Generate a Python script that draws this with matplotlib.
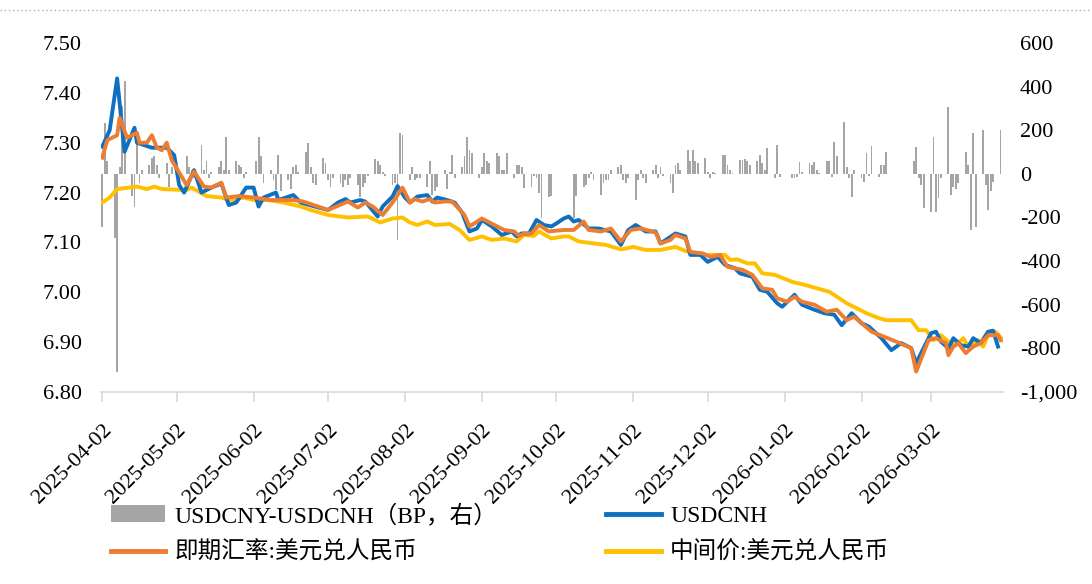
import numpy as np
import pandas as pd
import matplotlib
matplotlib.use("Agg")
import matplotlib.pyplot as plt
import matplotlib.transforms as mtransforms
from matplotlib.patches import Patch
from matplotlib.lines import Line2D
from matplotlib.ticker import FuncFormatter, MultipleLocator

plt.rcParams["font.family"] = ["Liberation Serif", "Noto Sans CJK SC"]
plt.rcParams["font.size"] = 16

# ---- USDCNH (left axis) ----
cnh_dates = [
    "2025-04-02", "2025-04-05", "2025-04-08", "2025-04-11", "2025-04-15", "2025-04-16", "2025-04-22",
    "2025-04-28", "2025-05-01", "2025-05-03", "2025-05-05", "2025-05-09", "2025-05-12", "2025-05-16",
    "2025-05-20", "2025-05-23", "2025-05-26", "2025-05-30", "2025-06-02", "2025-06-04", "2025-06-06",
    "2025-06-11", "2025-06-12", "2025-06-18", "2025-06-21", "2025-06-26", "2025-07-02", "2025-07-06",
    "2025-07-09", "2025-07-11", "2025-07-15", "2025-07-17", "2025-07-22", "2025-07-24", "2025-07-28",
    "2025-07-30", "2025-08-02", "2025-08-04", "2025-08-07", "2025-08-11", "2025-08-13", "2025-08-15",
    "2025-08-19", "2025-08-22", "2025-08-25", "2025-08-28", "2025-08-31", "2025-09-02", "2025-09-06",
    "2025-09-10", "2025-09-14", "2025-09-16", "2025-09-18", "2025-09-21", "2025-09-24", "2025-09-27",
    "2025-09-30", "2025-10-02", "2025-10-05", "2025-10-07", "2025-10-09", "2025-10-11", "2025-10-15",
    "2025-10-19", "2025-10-24", "2025-10-28", "2025-10-31", "2025-11-03", "2025-11-07", "2025-11-11",
    "2025-11-13", "2025-11-16", "2025-11-19", "2025-11-23", "2025-11-25", "2025-11-29", "2025-12-02",
    "2025-12-06", "2025-12-09", "2025-12-13", "2025-12-15", "2025-12-20", "2025-12-23", "2025-12-26",
    "2025-12-30", "2026-01-01", "2026-01-06", "2026-01-09", "2026-01-14", "2026-01-18", "2026-01-22",
    "2026-01-25", "2026-01-29", "2026-02-02", "2026-02-05", "2026-02-10", "2026-02-14", "2026-02-18",
    "2026-02-22", "2026-02-24", "2026-02-28", "2026-03-02", "2026-03-04", "2026-03-06", "2026-03-09",
    "2026-03-11", "2026-03-14", "2026-03-17", "2026-03-19", "2026-03-22", "2026-03-25", "2026-03-27",
    "2026-03-29",
]
cnh_vals = [
    7.292, 7.325, 7.429, 7.282, 7.330, 7.300, 7.290,
    7.290, 7.275, 7.215, 7.200, 7.245, 7.200, 7.210,
    7.218, 7.175, 7.180, 7.210, 7.210, 7.172, 7.190,
    7.200, 7.185, 7.195, 7.180, 7.173, 7.165, 7.180,
    7.187, 7.180, 7.185, 7.182, 7.152, 7.172, 7.192,
    7.213, 7.190, 7.180, 7.192, 7.195, 7.182, 7.190,
    7.185, 7.180, 7.160, 7.122, 7.128, 7.145, 7.132,
    7.115, 7.122, 7.112, 7.118, 7.118, 7.145, 7.135,
    7.132, 7.138, 7.148, 7.152, 7.142, 7.145, 7.128,
    7.128, 7.122, 7.095, 7.125, 7.135, 7.122, 7.122,
    7.098, 7.108, 7.118, 7.112, 7.075, 7.075, 7.061,
    7.071, 7.055, 7.048, 7.038, 7.031, 7.005, 7.001,
    6.978, 6.971, 6.995, 6.975, 6.965, 6.958, 6.955,
    6.934, 6.958, 6.938, 6.931, 6.908, 6.884, 6.898,
    6.888, 6.858, 6.898, 6.918, 6.921, 6.901, 6.888,
    6.908, 6.894, 6.891, 6.908, 6.898, 6.921, 6.923,
    6.891,
]

# ---- spot USD/CNY (left axis) ----
spot_dates = [
    "2025-04-02", "2025-04-04", "2025-04-08", "2025-04-09", "2025-04-12", "2025-04-16", "2025-04-17",
    "2025-04-20", "2025-04-22", "2025-04-24", "2025-04-26", "2025-04-28", "2025-04-30", "2025-05-04",
    "2025-05-06", "2025-05-09", "2025-05-13", "2025-05-16", "2025-05-20", "2025-05-22", "2025-05-27",
    "2025-06-02", "2025-06-09", "2025-06-14", "2025-06-18", "2025-06-22", "2025-06-28", "2025-07-02",
    "2025-07-10", "2025-07-14", "2025-07-17", "2025-07-20", "2025-07-24", "2025-07-28", "2025-08-01",
    "2025-08-03", "2025-08-04", "2025-08-06", "2025-08-09", "2025-08-12", "2025-08-14", "2025-08-18",
    "2025-08-21", "2025-08-26", "2025-08-28", "2025-09-02", "2025-09-07", "2025-09-11", "2025-09-15",
    "2025-09-17", "2025-09-19", "2025-09-22", "2025-09-25", "2025-09-29", "2025-10-05", "2025-10-09",
    "2025-10-13", "2025-10-15", "2025-10-20", "2025-10-24", "2025-10-28", "2025-11-01", "2025-11-05",
    "2025-11-11", "2025-11-13", "2025-11-17", "2025-11-19", "2025-11-23", "2025-11-25", "2025-11-30",
    "2025-12-03", "2025-12-07", "2025-12-10", "2025-12-16", "2025-12-20", "2025-12-24", "2025-12-28",
    "2025-12-30", "2026-01-03", "2026-01-06", "2026-01-09", "2026-01-14", "2026-01-19", "2026-01-23",
    "2026-01-27", "2026-01-30", "2026-02-02", "2026-02-06", "2026-02-11", "2026-02-16", "2026-02-22",
    "2026-02-24", "2026-03-01", "2026-03-04", "2026-03-08", "2026-03-09", "2026-03-11", "2026-03-13",
    "2026-03-16", "2026-03-19", "2026-03-22", "2026-03-25", "2026-03-29", "2026-03-30",
]
spot_vals = [
    7.270, 7.305, 7.315, 7.350, 7.310, 7.320, 7.300,
    7.300, 7.315, 7.290, 7.285, 7.300, 7.265, 7.232,
    7.215, 7.242, 7.212, 7.210, 7.220, 7.190, 7.193,
    7.190, 7.185, 7.185, 7.185, 7.182, 7.172, 7.165,
    7.182, 7.170, 7.180, 7.172, 7.155, 7.180, 7.210,
    7.190, 7.180, 7.187, 7.182, 7.187, 7.180, 7.182,
    7.182, 7.155, 7.132, 7.148, 7.135, 7.125, 7.122,
    7.113, 7.118, 7.118, 7.135, 7.122, 7.125, 7.125,
    7.142, 7.125, 7.122, 7.128, 7.102, 7.125, 7.128,
    7.120, 7.098, 7.105, 7.115, 7.108, 7.081, 7.078,
    7.071, 7.075, 7.051, 7.045, 7.035, 7.008, 7.005,
    6.988, 6.981, 6.991, 6.981, 6.975, 6.961, 6.965,
    6.944, 6.951, 6.938, 6.921, 6.911, 6.901, 6.888,
    6.841, 6.904, 6.908, 6.898, 6.874, 6.891, 6.898,
    6.878, 6.891, 6.898, 6.914, 6.914, 6.904,
]

# ---- central parity (left axis) ----
mid_dates = [
    "2025-04-02", "2025-04-05", "2025-04-08", "2025-04-16", "2025-04-20", "2025-04-23", "2025-04-26",
    "2025-05-06", "2025-05-08", "2025-05-14", "2025-05-20", "2025-05-23", "2025-05-29", "2025-06-02",
    "2025-06-08", "2025-06-14", "2025-06-21", "2025-06-25", "2025-07-02", "2025-07-10", "2025-07-18",
    "2025-07-23", "2025-07-28", "2025-08-01", "2025-08-04", "2025-08-07", "2025-08-11", "2025-08-14",
    "2025-08-20", "2025-08-24", "2025-08-28", "2025-09-02", "2025-09-06", "2025-09-11", "2025-09-16",
    "2025-09-19", "2025-09-23", "2025-09-25", "2025-09-30", "2025-10-05", "2025-10-07", "2025-10-11",
    "2025-10-17", "2025-10-22", "2025-10-28", "2025-11-02", "2025-11-07", "2025-11-13", "2025-11-19",
    "2025-11-23", "2025-11-29", "2025-12-03", "2025-12-09", "2025-12-11", "2025-12-14", "2025-12-18",
    "2025-12-21", "2025-12-24", "2025-12-29", "2026-01-05", "2026-01-10", "2026-01-15", "2026-01-20",
    "2026-01-24", "2026-01-27", "2026-01-31", "2026-02-04", "2026-02-09", "2026-02-12", "2026-02-22",
    "2026-02-25", "2026-02-28", "2026-03-03", "2026-03-06", "2026-03-09", "2026-03-12", "2026-03-15",
    "2026-03-17", "2026-03-21", "2026-03-23", "2026-03-25", "2026-03-28", "2026-03-31",
]
mid_vals = [
    7.180, 7.190, 7.207, 7.212, 7.207, 7.212, 7.207,
    7.205, 7.210, 7.193, 7.190, 7.185, 7.190, 7.185,
    7.185, 7.180, 7.172, 7.165, 7.155, 7.150, 7.152,
    7.140, 7.148, 7.150, 7.140, 7.135, 7.142, 7.135,
    7.137, 7.125, 7.105, 7.112, 7.105, 7.108, 7.102,
    7.115, 7.113, 7.122, 7.108, 7.112, 7.112, 7.102,
    7.098, 7.095, 7.086, 7.091, 7.085, 7.085, 7.091,
    7.083, 7.075, 7.075, 7.075, 7.065, 7.066, 7.058,
    7.058, 7.038, 7.035, 7.021, 7.015, 7.008, 7.001,
    6.988, 6.978, 6.968, 6.958, 6.948, 6.944, 6.944,
    6.924, 6.924, 6.904, 6.914, 6.901, 6.894, 6.908,
    6.891, 6.904, 6.891, 6.914, 6.921, 6.904,
]

# ---- USDCNY-USDCNH spread, bp, one value per business day (nan = CNY holiday) ----
nan = np.nan
spread_apr = [-242, 233, 60, -294, -907, 30, 309, 428, -100, -150, 140, -40, 20, 40, 73, 80, 40, -20,
              50, -60, 30]
spread_may = [nan, nan, nan, 80, 30, 20, -20, 133, 20, 60, -20, 10, 30, 60, 20, 171, 20, 60, 40, 30,
              -20, 10]
spread_jun = [nan, 60, 171, 80, -40, 20, -30, -73, 87, -80, -30, -70, 30, 41, 10, 102, 141, 30, -40,
              -50, 72]
spread_jul = [50, -30, -58, -20, -40, -60, -30, -50, -20, -50, -104, -60, -40, -10, 70, 60, 40, 10,
              -10, -50, -40, -303, 188]
spread_aug = [180, -30, 33, -30, -20, -20, -60, 57, -96, -80, -60, 20, -70, 10, 87, -20, 30, 80, 171,
              110, 97]
spread_sep = [-20, 30, 95, 60, 49, 95, 80, 20, 20, 95, -20, 40, 40, 30, -65, -60, -10, -20, -87, -200,
              -104, -100]
spread_oct = [nan, nan, nan, nan, nan, nan, -200, -100, -58, -50, -20, 10, -30, -96, -40, -30, -30, 20,
              33, 40, -30, -40, -20]
spread_nov = [-119, -30, 20, -20, -40, 20, 40, -20, 30, -10, -40, -89, 40, 50, 20, 110, 60, 110, 60,
              50]
spread_dec = [73, 10, -18, 10, 5, 87, 87, 40, 20, 5, 64, 64, 70, 60, 40, 60, 87, 50, 20, 118, -18, 133,
              -15]
spread_jan = [nan, nan, -20, -20, -15, 56, 10, 50, 40, 56, 20, 5, 60, 60, -15, 148, 80, 240, 30, -20,
              -104, 20]
spread_feb = [-20, -35, 96, -10, 128, -15, 40, 40, 102, nan, nan, nan, nan, nan, nan, 60, 125, -20,
              -50, -157]
spread_mar = [-175, 171, -175, -112, -20, 306, -96, -60, -70, -40, 102, 40, -257, 187, -242, 199, -50,
              -165, -80, -35, 199, nan]

spread_months = [
    ("2025-04-02", "2025-04-30", spread_apr), ("2025-05-01", "2025-05-31", spread_may),
    ("2025-06-01", "2025-06-30", spread_jun), ("2025-07-01", "2025-07-31", spread_jul),
    ("2025-08-01", "2025-08-31", spread_aug), ("2025-09-01", "2025-09-30", spread_sep),
    ("2025-10-01", "2025-10-31", spread_oct), ("2025-11-01", "2025-11-30", spread_nov),
    ("2025-12-01", "2025-12-31", spread_dec), ("2026-01-01", "2026-01-31", spread_jan),
    ("2026-02-01", "2026-02-28", spread_feb), ("2026-03-01", "2026-03-31", spread_mar),
]

tick_dates = ["2025-04-02", "2025-05-02", "2025-06-02", "2025-07-02", "2025-08-02", "2025-09-02",
              "2025-10-02", "2025-11-02", "2025-12-02", "2026-01-02", "2026-02-02", "2026-03-02"]

labels = ["USDCNY-USDCNH（BP，右）", "USDCNH", "即期汇率:美元兑人民币", "中间价:美元兑人民币"]
c_bar, c_cnh, c_spot, c_mid = "#a5a5a5", "#0f6fc0", "#ed7d31", "#ffc000"

bar_dates, bar_vals = [], []
for start, end, vals in spread_months:
    days = pd.bdate_range(start, end)
    assert len(days) == len(vals), (start, len(days), len(vals))
    bar_dates.extend(days)
    bar_vals.extend(vals)

fig = plt.figure(figsize=(10.92, 5.84), dpi=100)
ax = fig.add_axes([101 / 1092, 1 - 392 / 584, 902 / 1092, 349 / 584])
ax2 = ax.twinx()
ax.set_zorder(2)
ax2.set_zorder(1)
ax.patch.set_visible(False)

ax2.bar(bar_dates, bar_vals, width=0.75, color=c_bar, linewidth=0)
ax.plot(pd.to_datetime(mid_dates), mid_vals, color=c_mid, lw=2.8, solid_joinstyle="round")
ax.plot(pd.to_datetime(cnh_dates), cnh_vals, color=c_cnh, lw=2.8, solid_joinstyle="round")
ax.plot(pd.to_datetime(spot_dates), spot_vals, color=c_spot, lw=2.8, solid_joinstyle="round")

ax.set_xlim(pd.Timestamp("2025-04-01 12:00"), pd.Timestamp("2026-03-31"))
ax.set_ylim(6.80, 7.50)
ax.yaxis.set_major_locator(MultipleLocator(0.10))
ax.yaxis.set_major_formatter(FuncFormatter(lambda v, p: f"{v:.2f}"))
ax2.set_ylim(-1000, 600)
ax2.yaxis.set_major_locator(MultipleLocator(200))
ax2.yaxis.set_major_formatter(FuncFormatter(lambda v, p: f"{v:,.0f}"))

ax.set_xticks(pd.to_datetime(tick_dates))
ax.set_xticklabels(tick_dates, rotation=45, ha="right", va="top", rotation_mode="anchor")
shift = mtransforms.ScaledTranslation(6 / 100, 0, fig.dpi_scale_trans)
for lab in ax.get_xticklabels():
    lab.set_transform(lab.get_transform() + shift)

for a in (ax, ax2):
    for s in a.spines.values():
        s.set_visible(False)
ax.spines["bottom"].set_visible(True)
ax.spines["bottom"].set_color("#d9d9d9")
ax.spines["bottom"].set_linewidth(1.2)
ax.tick_params(axis="x", direction="out", length=7, color="#d9d9d9", width=1.2, pad=14)
ax.tick_params(axis="y", length=0, pad=14)
ax2.tick_params(axis="y", length=0, pad=12)

# dotted separator under the (cropped) title
fig.add_artist(Line2D([0, 1], [1 - 10 / 584, 1 - 10 / 584], transform=fig.transFigure,
                      color="#b0b0b0", lw=1, ls=(0, (1, 2))))

handles = [Patch(facecolor=c_bar, edgecolor="none"),
           Line2D([], [], color=c_spot, lw=3.5),
           Line2D([], [], color=c_cnh, lw=3.5),
           Line2D([], [], color=c_mid, lw=3.5)]
fig.legend(handles, [labels[0], labels[2], labels[1], labels[3]], ncol=2, frameon=False,
           loc="upper left", bbox_to_anchor=(111 / 1092, 1 - 504 / 584), fontsize=17,
           handlelength=2.3, handleheight=0.7, handletextpad=0.4, columnspacing=4.6,
           labelspacing=0.62, borderaxespad=0, borderpad=0)

fig.savefig("out.png", dpi=100)
